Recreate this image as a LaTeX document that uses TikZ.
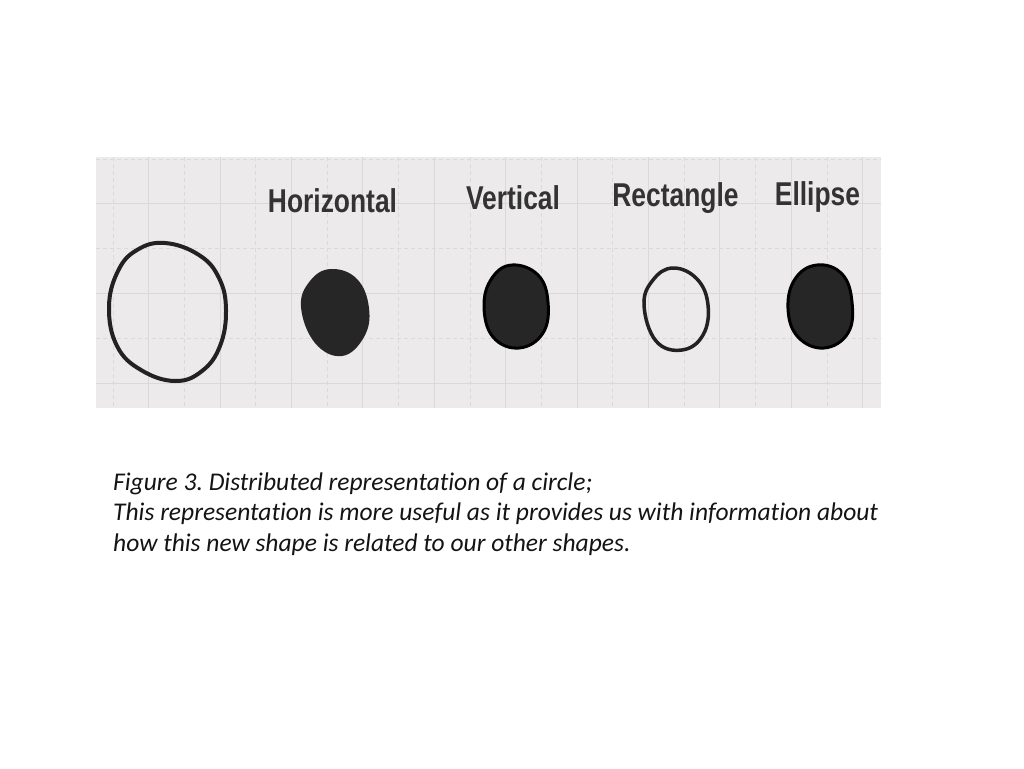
\documentclass[tikz,border=0pt]{standalone}
\usepackage{fontspec}
\setmainfont[Ligatures=NoCommon]{Carlito}
\newfontfamily\labfont[FakeStretch=0.8]{Liberation Sans}
\definecolor{panelbg}{HTML}{ECEAEA}
\definecolor{gridsolid}{HTML}{DAD8D8}
\definecolor{griddash}{HTML}{DBD9D9}
\definecolor{labcol}{HTML}{333333}
\definecolor{blobfill}{HTML}{262626}
\definecolor{ringcol}{HTML}{222222}
\tikzset{
  shapelabel/.style={anchor=base, inner sep=0pt, text=labcol, font=\labfont\bfseries\fontsize{33}{40}\selectfont},
  captionline/.style={anchor=base west, inner sep=0pt, text=black!92, font=\frenchspacing\itshape\fontsize{25.5}{30}\selectfont},
  gridline/.style={gridsolid, line width=1pt},
  griddashed/.style={griddash, line width=1pt, dash pattern=on 4pt off 3pt},
  ring/.style={ringcol, line width=4pt},
  blob/.style={fill=blobfill, draw=black, line width=3pt},
}
\begin{document}
\begin{tikzpicture}[x=1pt, y=-1pt]
\useasboundingbox (0,0) rectangle (1024,768);
\fill[white] (0,0) rectangle (1024,768);
% panel
\fill[panelbg] (96,157) rectangle (881,408);
\foreach \k in {0,...,21} {
  \pgfmathsetmacro{\xx}{113+35.7*\k}
  \ifodd\k
    \draw[gridline] (\xx,157) -- (\xx,408);
  \else
    \draw[griddashed] (\xx,157) -- (\xx,408);
  \fi
}
\foreach \yy in {203,293,383} \draw[gridline] (96,\yy) -- (881,\yy);
\foreach \yy in {159,248,338} \draw[griddashed] (96,\yy) -- (881,\yy);
% labels
\node[shapelabel] (lh) at (332.5,212) {Horizontal};
\node[shapelabel] (lv) at (513,209) {Vertical};
\node[shapelabel] (lr) at (675.5,206) {Rectangle};
\node[shapelabel] (le) at (817.5,205) {Ellipse};
% big open circle
\draw[ring] plot[smooth cycle, tension=0.7] coordinates {
  (165,243) (199,255) (219,278) (226,310) (220,346) (202,371) (175,381)
  (141,370) (117,346) (109,307) (118,271) (137,250)};
% horizontal (filled)
\fill[blobfill] plot[smooth cycle, tension=0.7] coordinates {
  (331,269) (357,279) (369,308) (364,337) (342,356) (315,343) (301,307) (310,281)};
% vertical (filled, black outline)
\draw[blob] plot[smooth cycle, tension=0.7] coordinates {
  (512,265) (538,275) (548,302) (543,333) (519,348) (493,337) (484,306) (492,278)};
% rectangle (open)
\draw[ring, line width=3.5pt] plot[smooth cycle, tension=0.7] coordinates {
  (673,268) (697,279) (708,305) (703,335) (682,350) (656,341) (644,305) (653,280)};
% ellipse (filled, black outline)
\draw[blob] plot[smooth cycle, tension=0.7] coordinates {
  (817,265) (842,274) (852,302) (848,333) (824,348) (798,337) (788,309) (795,279)};
% caption
\node[captionline] (c1) at (113,490) {Figure 3. Distributed representation of a circle;};
\node[captionline] (c2) at (113,520.5) {This representation is more useful as it provides us with information about};
\node[captionline] (c3) at (113,551) {how this new shape is related to our other shapes.};
\end{tikzpicture}
\end{document}
